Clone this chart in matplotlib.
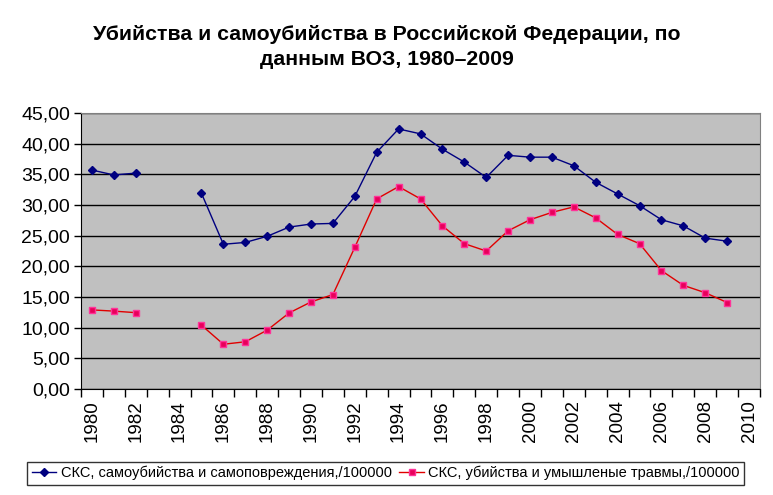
import matplotlib.pyplot as plt
import numpy as np

plt.rcParams['font.family'] = ['Liberation Sans', 'DejaVu Sans']

# years on the category axis (1980..2010), data for 1980..2009
categories = list(range(1980, 2011))
years = list(range(1980, 2010))

# suicide and self-harm, per 100000 (1983-1984 missing)
suicide = [35.7, 34.9, 35.2, None, None, 31.9, 23.6, 23.9, 24.9, 26.4,
           26.9, 27.0, 31.4, 38.6, 42.4, 41.6, 39.1, 37.0, 34.5, 38.1,
           37.8, 37.8, 36.4, 33.7, 31.8, 29.9, 27.6, 26.6, 24.6, 24.1]
# homicide and intentional injuries, per 100000
homicide = [12.9, 12.7, 12.45, None, None, 10.4, 7.3, 7.7, 9.6, 12.4,
            14.2, 15.4, 23.1, 31.0, 33.0, 31.0, 26.6, 23.7, 22.5, 25.8,
            27.6, 28.8, 29.7, 27.9, 25.2, 23.7, 19.3, 16.9, 15.7, 14.1]

label_suicide = 'СКС, самоубийства и самоповреждения,/100000'
label_homicide = 'СКС, убийства и умышленые травмы,/100000'
title = 'Убийства и самоубийства в Российской Федерации, по\nданным ВОЗ, 1980–2009'

s = np.array([np.nan if v is None else v for v in suicide])
h = np.array([np.nan if v is None else v for v in homicide])
x = np.arange(len(years))

fig = plt.figure(figsize=(7.73, 4.95), dpi=100)
ax = fig.add_axes([0.1048, 0.2141, 0.8784, 0.5576])
ax.set_facecolor('#C0C0C0')

ax.plot(x, s, color='#000080', lw=1, marker='D', ms=4.5,
        mfc='#000080', mec='#000080', label=label_suicide)
ax.plot(x, h, color='#E00000', lw=1, marker='s', ms=5,
        mfc='#E8005A', mec='#FF3399', label=label_homicide)

ax.set_ylim(0, 45)
ax.set_yticks(np.arange(0, 46, 5))
ax.set_yticklabels([f'{v:.2f}'.replace('.', ',') for v in np.arange(0, 46, 5)],
                   fontsize=14)
ax.yaxis.grid(True, color='black', lw=1)
ax.set_axisbelow(True)
ax.tick_params(axis='y', direction='out', length=5, width=1, pad=3)

ax.set_xlim(-0.5, len(categories) - 0.5)
ax.set_xticks(np.arange(-0.5, len(categories)), minor=True)
ax.set_xticks(np.arange(0, len(categories), 2))
ax.set_xticklabels([str(c) for c in categories[::2]], rotation=90, fontsize=13.5)
ax.tick_params(axis='x', which='major', length=0, pad=8)
ax.tick_params(axis='x', which='minor', direction='out', length=6, width=1)

for side in ['top', 'right']:
    ax.spines[side].set_color('#808080')
for side in ['left', 'bottom']:
    ax.spines[side].set_color('black')

fig.text(0.5, 0.905, title, ha='center', va='center', fontsize=15.3,
         fontweight='bold', linespacing=1.42)

leg = fig.legend(loc='lower center', bbox_to_anchor=(0.499, 0.012), ncol=2,
                 fontsize=10.5, frameon=True, fancybox=False, edgecolor='black',
                 handlelength=1.7, handletextpad=0.3, columnspacing=0.5,
                 borderpad=0.3, borderaxespad=0.3)
leg.get_frame().set_linewidth(1)

fig.savefig('out.png', dpi=100)
